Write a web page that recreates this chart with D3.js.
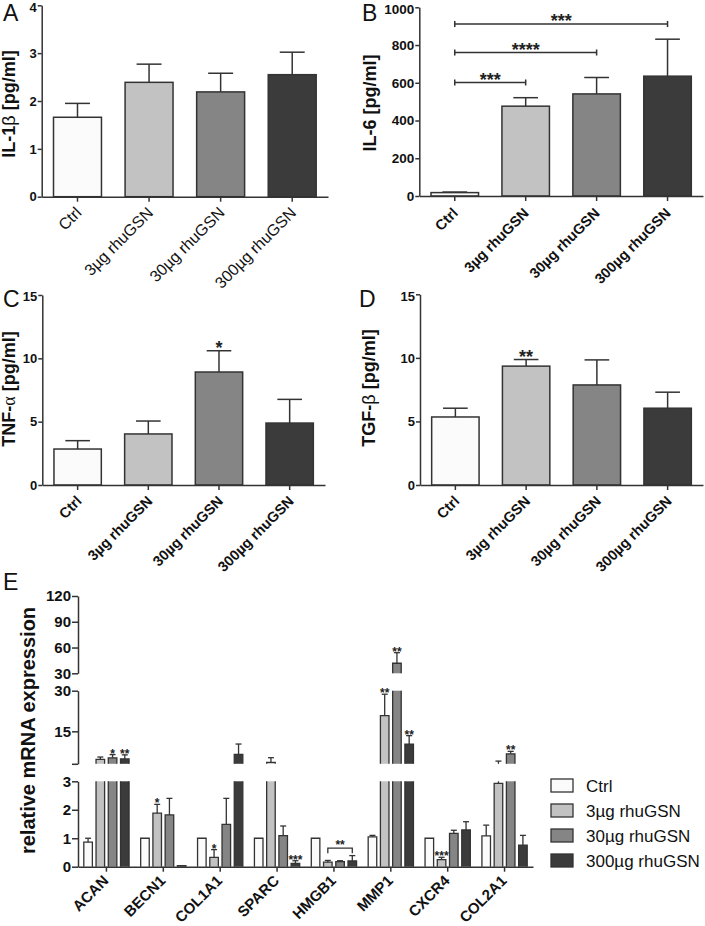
<!DOCTYPE html>
<html><head><meta charset="utf-8">
<script src="https://cdn.jsdelivr.net/npm/d3@7"></script>
<style>
body{margin:0;background:#fff;}
svg{display:block;font-family:"Liberation Sans",Arial,sans-serif;}
</style></head><body>
<svg id="c" width="705" height="926"></svg>
<script>
// ---------- DATA ----------
const groups = ["Ctrl", "3µg rhuGSN", "30µg rhuGSN", "300µg rhuGSN"];
const fills = ["#fbfbfb", "#c2c2c2", "#858585", "#3b3b3b"];

const il1bTicks = [0, 1, 2, 3, 4];
const il1bMean = [1.66, 2.39, 2.19, 2.55];
const il1bSem  = [0.29, 0.38, 0.39, 0.47];

const il6Ticks = [0, 200, 400, 600, 800, 1000];
const il6Mean = [18, 476, 541, 635];
const il6Sem  = [3, 45, 87, 196];
const il6Brackets = [[0, 1, "***", 601], [0, 2, "****", 760], [0, 3, "***", 911]];

const tnfTicks = [0, 5, 10, 15];
const tnfMean = [2.84, 4.03, 8.92, 4.89];
const tnfSem  = [0.66, 1.02, 1.68, 1.87];
const tnfSig = [[2, "*"]];

const tgfTicks = [0, 5, 10, 15];
const tgfMean = [5.35, 9.35, 7.87, 6.04];
const tgfSem  = [0.69, 0.52, 1.97, 1.26];
const tgfSig = [[1, "**"]];

const genes = ["ACAN", "BECN1", "COL1A1", "SPARC", "HMGB1", "MMP1", "CXCR4", "COL2A1"];
const mrnaMean = [
  [0.86, 1.0, 1.0, 1.0, 1.0, 1.05, 1.0, 1.08],     // Ctrl
  [4.6, 1.88, 0.33, 3.5, 0.16, 20.8, 0.25, 2.93],  // 3µg
  [5.2, 1.82, 1.49, 1.09, 0.18, 41.7, 1.17, 6.7],  // 30µg
  [4.8, 0.04, 6.5, 0.12, 0.20, 10.3, 1.29, 0.76]   // 300µg
];
const mrnaSem = [
  [0.14, 0, 0, 0, 0, 0.05, 0, 0.38],
  [0.9, 0.31, 0.27, 1.75, 0.06, 7.9, 0.08, 1.07],
  [1.2, 0.58, 0.91, 0.34, 0.03, 12.3, 0.11, 0.9],
  [1.5, 0, 3.8, 0.09, 0.19, 3.1, 0.29, 0.34]
];
const mrnaSig = [[0, 2, "*"], [0, 3, "**"], [1, 1, "*"], [2, 1, "*"], [3, 3, "***"],
                 [5, 1, "**"], [5, 2, "**"], [5, 3, "**"], [6, 1, "***"], [7, 2, "**"]];
const mrnaBracket = [4, 1, 3, "**", 0.65];
const segDomains = [[0, 3], [3, 30], [30, 120]];
const segTicks = [[0, 1, 2, 3], [3, 15, 30], [30, 60, 90, 120]];

// ---------- DRAW ----------
const svg = d3.select("#c");
const INK = "#333";

function styleAxis(g) {
  g.selectAll("path,line").attr("stroke", INK).attr("stroke-width", 1.5);
  g.attr("font-family", null).attr("font-size", null);
}

function barPanel(o) {
  const g = svg.append("g");
  const x = d3.scaleBand().domain(groups).range(o.xr).paddingInner(0.33).paddingOuter(0.165);
  const y = d3.scaleLinear().domain(o.ydom).range(o.yr);
  g.selectAll("rect.bar").data(o.mean).join("rect")
    .attr("x", (d, i) => x(groups[i])).attr("width", x.bandwidth())
    .attr("y", d => y(d)).attr("height", d => y(0) - y(d))
    .attr("fill", (d, i) => fills[i]).attr("stroke", INK).attr("stroke-width", 1.5);
  o.mean.forEach((m, i) => {
    const cx = x(groups[i]) + x.bandwidth() / 2, cw = x.bandwidth() * 0.26;
    const top = y(m + o.sem[i]);
    g.append("line").attr("x1", cx).attr("x2", cx).attr("y1", y(m)).attr("y2", top)
      .attr("stroke", INK).attr("stroke-width", 1.5);
    g.append("line").attr("x1", cx - cw).attr("x2", cx + cw).attr("y1", top).attr("y2", top)
      .attr("stroke", INK).attr("stroke-width", 1.5);
  });
  (o.sig || []).forEach(([i, s]) => {
    const cx = x(groups[i]) + x.bandwidth() / 2;
    g.append("text").attr("x", cx).attr("y", y(o.mean[i] + o.sem[i]) + 3.5)
      .attr("text-anchor", "middle").attr("font-weight", "bold").attr("font-size", 18)
      .attr("fill", "#222").text(s);
  });
  (o.brackets || []).forEach(([a, b, s, v]) => {
    const x1 = x(groups[a]) + x.bandwidth() / 2, x2 = x(groups[b]) + x.bandwidth() / 2;
    const yy = y(v);
    g.append("path").attr("d", `M${x1},${yy - 3}V${yy + 3}M${x1},${yy}H${x2}M${x2},${yy - 3}V${yy + 3}`)
      .attr("stroke", INK).attr("stroke-width", 1.5).attr("fill", "none");
    g.append("text").attr("x", (x1 + x2) / 2).attr("y", yy + 3)
      .attr("text-anchor", "middle").attr("font-weight", "bold").attr("font-size", 18)
      .attr("fill", "#222").text(s);
  });
  const ya = g.append("g").attr("transform", `translate(${o.xr[0]},0)`)
    .call(d3.axisLeft(y).tickValues(o.ticks).tickSize(4).tickSizeOuter(0).tickPadding(1)
      .tickFormat(d => String(d)));
  styleAxis(ya);
  ya.selectAll("text").attr("font-weight", "bold").attr("font-size", o.ytf).attr("fill", "#111");
  ya.selectAll("text").filter(d => d === o.ydom[1]).attr("dy", "0.45em");
  const xa = g.append("g").attr("transform", `translate(0,${o.yr[0]})`)
    .call(d3.axisBottom(x).tickSize(5).tickSizeOuter(0));
  styleAxis(xa);
  xa.selectAll("text").remove();
  groups.forEach(gr => {
    const cx = x(gr) + x.bandwidth() / 2;
    g.append("text").attr("transform", `translate(${cx + o.lx},${o.yr[0] + o.ly}) rotate(-45)`)
      .attr("text-anchor", "end").attr("font-size", o.xtf)
      .attr("font-weight", o.xbold ? "bold" : "normal").attr("fill", "#111").text(gr);
  });
  const t = g.append("text").attr("transform", `translate(${o.ylx},${o.yly}) rotate(-90)`)
    .attr("text-anchor", "middle").attr("font-weight", "bold").attr("font-size", 18).attr("fill", "#111");
  o.ylabel.forEach(p => {
    const ts = t.append("tspan").text(p[0]);
    if (p[1]) ts.attr("font-weight", "normal").attr("font-family", p[1]);
  });
  g.append("text").attr("x", o.L[0]).attr("y", o.L[1]).attr("font-size", 23).attr("fill", "#111").text(o.letter);
}

barPanel({letter: "A", L: [3, 21], xr: [41.7, 328], yr: [196.7, 5.3], ydom: [0, 4], ticks: il1bTicks,
  mean: il1bMean, sem: il1bSem, ytf: 13, xtf: 16, xbold: false, lx: 5, ly: 17,
  ylabel: [["IL-1"], ["β", "Liberation Sans"], [" [pg/ml]"]], ylx: 15, yly: 104});
barPanel({letter: "B", L: [362, 21], xr: [419.3, 703], yr: [196, 7.3], ydom: [0, 1000], ticks: il6Ticks,
  mean: il6Mean, sem: il6Sem, ytf: 13.5, xtf: 14.5, xbold: true, lx: 4, ly: 18, brackets: il6Brackets,
  ylabel: [["IL-6 [pg/ml]"]], ylx: 376, yly: 103});
barPanel({letter: "C", L: [3, 307], xr: [42.3, 325], yr: [485, 295], ydom: [0, 15], ticks: tnfTicks,
  mean: tnfMean, sem: tnfSem, ytf: 13, xtf: 14.5, xbold: true, lx: 5, ly: 17, sig: tnfSig,
  ylabel: [["TNF-"], ["α", "Liberation Serif"], [" [pg/ml]"]], ylx: 15, yly: 389});
barPanel({letter: "D", L: [359, 307], xr: [420, 703], yr: [485, 294.3], ydom: [0, 15], ticks: tgfTicks,
  mean: tgfMean, sem: tgfSem, ytf: 13, xtf: 14.5, xbold: true, lx: 5, ly: 17, sig: tgfSig,
  ylabel: [["TGF-"], ["β", "Liberation Sans"], [" [pg/ml]"]], ylx: 375, yly: 388});

// ---------- Panel E ----------
(function () {
  const g = svg.append("g");
  const segRanges = [[866.7, 781.3], [763.8, 690.7], [673.3, 596]];
  const scales = segDomains.map((d, k) => d3.scaleLinear().domain(d).range(segRanges[k]));
  const x0 = d3.scaleBand().domain(genes).range([78, 533]);
  const x1 = d3.scaleBand().domain(groups).range([0, x0.bandwidth()]).paddingInner(0.3).paddingOuter(0.474);
  const segOf = v => v <= 3 ? 0 : (v <= 30 ? 1 : 2);

  genes.forEach((gene, gi) => {
    groups.forEach((gr, si) => {
      const m = mrnaMean[si][gi], e = m + mrnaSem[si][gi];
      const bx = x0(gene) + x1(gr), bw = x1.bandwidth(), cx = bx + bw / 2;
      scales.forEach((sc, k) => {
        const [d0, d1] = segDomains[k];
        if (m > d0) {
          const tv = Math.min(m, d1);
          const yb = sc(d0), yt = sc(tv);
          g.append("rect").attr("x", bx).attr("width", bw).attr("y", yt).attr("height", yb - yt)
            .attr("fill", fills[si]);
          let p = `M${bx},${yb}V${yt}`;
          p += m <= d1 ? `H${bx + bw}` : `M${bx + bw},${yt}`;
          p += `V${yb}`;
          g.append("path").attr("d", p).attr("fill", "none").attr("stroke", INK).attr("stroke-width", 1.3);
        }
        const lo = Math.max(m, d0), hi = Math.min(e, d1);
        if (hi > lo) {
          g.append("line").attr("x1", cx).attr("x2", cx).attr("y1", sc(lo)).attr("y2", sc(hi))
            .attr("stroke", INK).attr("stroke-width", 1.3);
        }
        if (e > m && e >= d0 && e <= d1) {
          g.append("line").attr("x1", cx - 3).attr("x2", cx + 3).attr("y1", sc(e)).attr("y2", sc(e))
            .attr("stroke", INK).attr("stroke-width", 1.3);
        }
      });
    });
  });
  mrnaSig.forEach(([gi, si, s]) => {
    const e = mrnaMean[si][gi] + mrnaSem[si][gi];
    const cx = x0(genes[gi]) + x1(groups[si]) + x1.bandwidth() / 2;
    g.append("text").attr("x", cx).attr("y", scales[segOf(e)](e) + 3)
      .attr("text-anchor", "middle").attr("font-weight", "bold").attr("font-size", 12)
      .attr("fill", "#222").text(s);
  });
  {
    const [gi, a, b, s, v] = mrnaBracket;
    const xa = x0(genes[gi]) + x1(groups[a]) + x1.bandwidth() / 2;
    const xb = x0(genes[gi]) + x1(groups[b]) + x1.bandwidth() / 2;
    const yy = scales[0](v);
    g.append("path").attr("d", `M${xa},${yy + 5}V${yy}H${xb}V${yy + 5}`)
      .attr("fill", "none").attr("stroke", INK).attr("stroke-width", 1.3);
    g.append("text").attr("x", (xa + xb) / 2).attr("y", yy + 1).attr("text-anchor", "middle")
      .attr("font-weight", "bold").attr("font-size", 12).attr("fill", "#222").text(s);
  }
  scales.forEach((sc, k) => {
    const ax = g.append("g").attr("transform", "translate(78,0)")
      .call(d3.axisLeft(sc).tickValues(segTicks[k]).tickSize(6).tickSizeOuter(0).tickPadding(1)
        .tickFormat(d => (k === 1 && d === 3) ? "" : String(d)));
    styleAxis(ax);
    ax.selectAll("text").attr("font-weight", "bold").attr("font-size", 15).attr("fill", "#111");
  });
  const xa = g.append("g").attr("transform", `translate(0,${segRanges[0][0]})`)
    .call(d3.axisBottom(x0).tickSize(5).tickSizeOuter(0));
  styleAxis(xa);
  xa.selectAll("text").remove();
  genes.forEach(gene => {
    const cx = x0(gene) + x0.bandwidth() / 2;
    g.append("text").attr("transform", `translate(${cx + 3},${segRanges[0][0] + 15}) rotate(-45)`)
      .attr("text-anchor", "end").attr("font-weight", "bold").attr("font-size", 15)
      .attr("fill", "#111").text(gene);
  });
  g.append("text").attr("transform", "translate(35,730.5) rotate(-90)").attr("text-anchor", "middle")
    .attr("font-weight", "bold").attr("font-size", 20).attr("fill", "#111").text("relative mRNA expression");
  g.append("text").attr("x", 3).attr("y", 590).attr("font-size", 23).attr("fill", "#111").text("E");
  groups.forEach((gr, i) => {
    const cy = 785.5 + i * 25;
    g.append("rect").attr("x", 551).attr("y", cy - 6.5).attr("width", 22).attr("height", 13)
      .attr("fill", fills[i]).attr("stroke", INK).attr("stroke-width", 1.3);
    g.append("text").attr("x", 586).attr("y", cy + 6).attr("font-size", 17).attr("fill", "#111").text(gr);
  });
})();
</script>
</body></html>
